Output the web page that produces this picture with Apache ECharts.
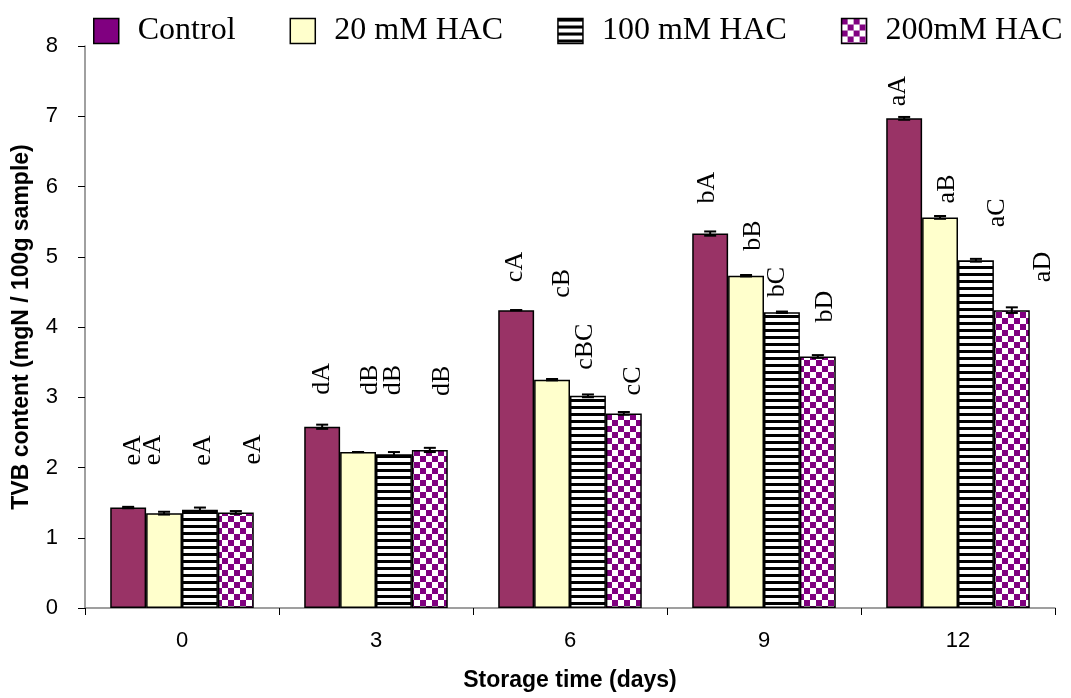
<!DOCTYPE html>
<html>
<head>
<meta charset="utf-8">
<script src="https://cdn.jsdelivr.net/npm/echarts@6/dist/echarts.min.js"></script>
<style>
  html, body { margin: 0; padding: 0; background: #fff; }
  #chart { width: 1071px; height: 698px; }
</style>
</head>
<body>
<div id="chart"></div>
<script>
// Storage time categories (days)
const days = ['0', '3', '6', '9', '12'];

// TVB content (mgN / 100g sample) per treatment
const control = [1.43, 2.58, 4.24, 5.33, 6.97];
const hac20   = [1.35, 2.22, 3.25, 4.73, 5.56];
const hac100  = [1.40, 2.19, 3.02, 4.21, 4.95];
const hac200  = [1.36, 2.25, 2.77, 3.58, 4.24];

// Standard errors
const controlErr = [0.01, 0.03, 0.00, 0.03, 0.02];
const hac20Err   = [0.02, 0.00, 0.01, 0.01, 0.02];
const hac100Err  = [0.03, 0.03, 0.02, 0.01, 0.02];
const hac200Err  = [0.02, 0.03, 0.02, 0.02, 0.04];

// Significance letters
const controlLetters = ['eA', 'dA', 'cA', 'bA', 'aA'];
const hac20Letters   = ['eA', 'dB', 'cB', 'bB', 'aB'];
const hac100Letters  = ['eA', 'dB', 'cBC', 'bC', 'aC'];
const hac200Letters  = ['eA', 'dB', 'cC', 'bD', 'aD'];

const seriesNames = ['Control', '20 mM HAC', '100 mM HAC', '200mM HAC'];
const yTicks = { min: 0, max: 8, interval: 1 };

// ---- styling ----
function makeTile(w, h, draw) {
  const c = document.createElement('canvas');
  c.width = w; c.height = h;
  const ctx = c.getContext('2d');
  draw(ctx);
  return { image: c, repeat: 'repeat' };
}
const stripeFill = makeTile(8, 7, ctx => {
  ctx.fillStyle = '#fff'; ctx.fillRect(0, 0, 8, 7);
  ctx.fillStyle = '#000'; ctx.fillRect(0, 0, 8, 3);
});
const checkerFill = makeTile(12, 12, ctx => {
  ctx.fillStyle = '#fff'; ctx.fillRect(0, 0, 12, 12);
  ctx.fillStyle = '#800080';
  ctx.fillRect(0, 0, 6, 6); ctx.fillRect(6, 6, 6, 6);
});

const fills = ['#993366', '#FFFFCC', stripeFill, checkerFill];
const legendFills = ['#800080', '#FFFFCC', stripeFill, checkerFill];

// letter placement on screen: [dx right, gap above bar top] in pixels
const labelShift = [
  [[5, 42], [0, 32], [-1, 28], [-3, 30], [-6, 12]],
  [[-11, 48], [12, 57], [10, 82], [7, 25], [7, 14]],
  [[3, 44], [-1, 59], [-3, 26], [-5, 15], [21, 33]],
  [[17, 48], [12, 54], [9, 18], [7, 34], [31, 28]]
];

const values = [control, hac20, hac100, hac200];
const errs = [controlErr, hac20Err, hac100Err, hac200Err];
const letters = [controlLetters, hac20Letters, hac100Letters, hac200Letters];

const CAT_GAP = 0.26;

// label offsets are applied in the rotated text frame (90°):
// local x runs up the screen, local y runs right
const barSeries = values.map((vals, k) => ({
  name: seriesNames[k],
  type: 'bar',
  barGap: '0%',
  barCategoryGap: (CAT_GAP * 100) + '%',
  itemStyle: { color: fills[k], borderColor: '#000', borderWidth: 1.5 },
  label: {
    show: true,
    position: 'top',
    distance: 0,
    rotate: 90,
    align: 'left',
    verticalAlign: 'middle',
    fontFamily: '"Liberation Serif", "Times New Roman", serif',
    fontSize: 26,
    color: '#000',
    formatter: p => letters[k][p.dataIndex]
  },
  emphasis: { disabled: true },
  data: vals.map((v, i) => ({
    value: v,
    label: { offset: [labelShift[k][i][1], labelShift[k][i][0]] }
  }))
}));

const errSeries = values.map((vals, k) => ({
  type: 'custom',
  z: 5,
  silent: true,
  renderItem: (params, api) => {
    const i = api.value(0);
    const v = api.value(1);
    const e = api.value(2);
    const catW = api.size([1, 0])[0];
    const bw = catW * (1 - CAT_GAP) / 4;
    const x = api.coord([i, 0])[0] + (k - 1.5) * bw;
    const yHi = api.coord([i, v + e])[1];
    const yLo = api.coord([i, v - e])[1];
    const hw = 6;
    const st = { stroke: '#000', lineWidth: 2 };
    return {
      type: 'group',
      children: [
        { type: 'line', shape: { x1: x, y1: yHi, x2: x, y2: yLo }, style: st },
        { type: 'line', shape: { x1: x - hw, y1: yHi, x2: x + hw, y2: yHi }, style: st },
        { type: 'line', shape: { x1: x - hw, y1: yLo, x2: x + hw, y2: yLo }, style: st }
      ]
    };
  },
  encode: { x: 0, y: 1 },
  data: vals.map((v, i) => [i, v, errs[k][i]])
}));

const chart = echarts.init(document.getElementById('chart'), null, { renderer: 'canvas' });
chart.setOption({
  backgroundColor: '#fff',
  animation: false,
  legend: {
    left: 88,
    top: 10,
    itemWidth: 25,
    itemHeight: 25,
    itemGap: 54,
    icon: 'rect',
    selectedMode: false,
    itemStyle: { borderColor: '#000', borderWidth: 1.5 },
    textStyle: {
      fontFamily: '"Liberation Serif", "Times New Roman", serif',
      fontSize: 32,
      color: '#000',
      padding: [0, 0, 10, 14]
    },
    data: seriesNames.map((n, k) => ({ name: n, itemStyle: { color: legendFills[k] } }))
  },
  grid: { left: 85, right: 16, top: 46, bottom: 90 },
  xAxis: {
    type: 'category',
    data: days,
    boundaryGap: true,
    name: 'Storage time (days)',
    nameLocation: 'middle',
    nameGap: 61,
    nameTextStyle: { fontFamily: '"Liberation Sans", Arial, sans-serif', fontSize: 23, fontWeight: 'bold', color: '#000' },
    axisLine: { lineStyle: { color: '#808080', width: 1.5 } },
    axisTick: { show: true, length: 7, alignWithLabel: false, lineStyle: { color: '#000' } },
    axisLabel: { fontFamily: '"Liberation Sans", Arial, sans-serif', fontSize: 22, color: '#000', margin: 22 },
    splitLine: { show: false }
  },
  yAxis: {
    type: 'value',
    min: yTicks.min,
    max: yTicks.max,
    interval: yTicks.interval,
    name: 'TVB content (mgN / 100g sample)',
    nameLocation: 'middle',
    nameGap: 52,
    nameTextStyle: { fontFamily: '"Liberation Sans", Arial, sans-serif', fontSize: 23, fontWeight: 'bold', color: '#000' },
    axisLine: { show: true, lineStyle: { color: '#808080', width: 1.5 } },
    axisTick: { show: true, length: 7, lineStyle: { color: '#000' } },
    axisLabel: { fontFamily: '"Liberation Sans", Arial, sans-serif', fontSize: 22, color: '#000', margin: 27 },
    splitLine: { show: false }
  },
  series: [...barSeries, ...errSeries]
});
</script>
</body>
</html>
